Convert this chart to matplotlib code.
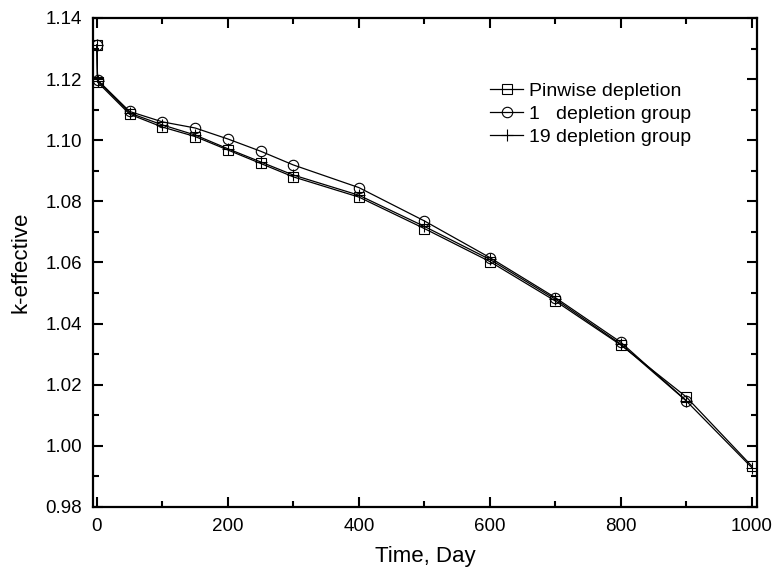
import matplotlib
matplotlib.use("Agg")
import matplotlib.pyplot as plt
from matplotlib.ticker import MultipleLocator, FormatStrFormatter

plt.rcParams['font.family'] = ['Liberation Sans', 'DejaVu Sans']

# burnup data
days = [0, 1, 50, 100, 150, 200, 250, 300, 400, 500, 600, 700, 800, 900, 1000]
k_pinwise = [1.1310, 1.1190, 1.1085, 1.1043, 1.1012, 1.0968, 1.0924, 1.0880, 1.0814, 1.0711,
             1.0603, 1.0474, 1.0330, 1.0160, 0.9934]
days_1grp = [0, 1, 50, 100, 150, 200, 250, 300, 400, 500, 600, 700, 800, 900]
k_1grp = [1.1312, 1.1197, 1.1094, 1.1060, 1.1040, 1.1004, 1.0964, 1.0919, 1.0845, 1.0736,
          1.0616, 1.0485, 1.0339, 1.0148]
k_19grp = [1.1312, 1.1195, 1.1089, 1.1050, 1.1017, 1.0972, 1.0929, 1.0886, 1.0820, 1.0718,
           1.0610, 1.0480, 1.0333, 1.0147, 0.9929]

fig = plt.figure(figsize=(7.78, 5.79), dpi=100)
ax = fig.add_axes([0.1195, 0.1244, 0.8535, 0.8446])

ax.plot(days, k_pinwise, color="black", lw=0.9, marker="s", ms=7, mfc="none", mec="black",
        mew=0.8, label="Pinwise depletion")
ax.plot(days_1grp, k_1grp, color="black", lw=0.9, marker="o", ms=7.5, mfc="none", mec="black",
        mew=0.8, label="1   depletion group")
ax.plot(days, k_19grp, color="black", lw=0.9, marker="+", ms=8, mec="black",
        mew=0.8, label="19 depletion group")

ax.set_xlim(-6, 1008)
ax.set_ylim(0.98, 1.14)
ax.xaxis.set_major_locator(MultipleLocator(200))
ax.xaxis.set_minor_locator(MultipleLocator(100))
ax.yaxis.set_major_locator(MultipleLocator(0.02))
ax.yaxis.set_minor_locator(MultipleLocator(0.01))
ax.yaxis.set_major_formatter(FormatStrFormatter("%.2f"))
ax.tick_params(which="both", direction="in", top=True, right=True, width=1.5, labelsize=13.5)
ax.tick_params(which="major", length=7, pad=8)
ax.tick_params(which="minor", length=4)
for s in ax.spines.values():
    s.set_linewidth(1.6)

ax.set_xlabel("Time, Day", fontsize=16, labelpad=8)
ax.set_ylabel("k-effective", fontsize=16, labelpad=10)

ax.legend(loc="upper left", bbox_to_anchor=(0.572, 0.905), frameon=False, fontsize=14,
          handlelength=1.7, handletextpad=0.3, labelspacing=0.28)

fig.savefig("out.png", dpi=100)
